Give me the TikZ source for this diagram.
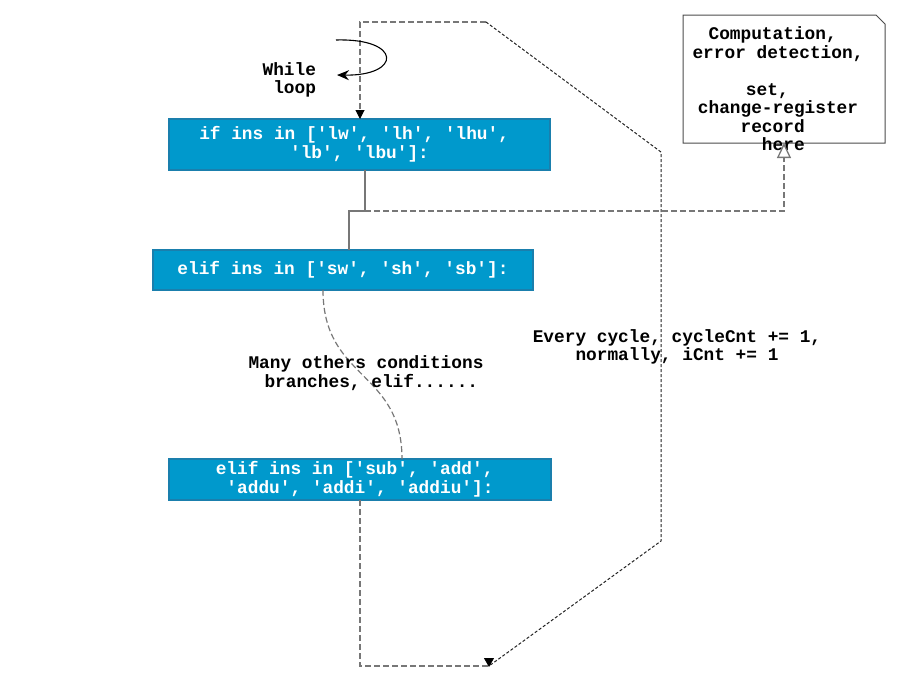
\documentclass[tikz,border=0pt]{standalone}
\usepackage{fontspec}
\setmonofont{Liberation Mono}
\usetikzlibrary{arrows.meta,calc}
\definecolor{boxfill}{HTML}{0099CC}
\definecolor{boxline}{HTML}{1A7FAD}
\definecolor{lnk}{HTML}{777777}
\definecolor{thinlnk}{HTML}{222222}
\begin{document}
\begin{tikzpicture}[x=1pt,y=-1pt,
  txt/.style={font=\fontsize{17.8pt}{18.5pt}\selectfont\ttfamily\bfseries, align=center, inner sep=0pt, outer sep=0pt},
  codebox/.style={txt, draw=boxline, line width=1.5pt, fill=boxfill, text=white},
  graylnk/.style={draw=lnk, line width=1.5pt, dash pattern=on 6pt off 3pt},
  solidlnk/.style={draw=lnk, line width=1.8pt},
  thindash/.style={draw=thinlnk, line width=1pt, dash pattern=on 3pt off 2pt},
  tipdown/.style={-{Triangle[length=9pt,width=9pt]}},
]
\useasboundingbox (0,0) rectangle (905,694);

% code boxes
\node[codebox, minimum width=381pt, minimum height=51pt] (b1) at (359.5,144.5)
  {if ins in ['lw', 'lh', 'lhu',\hphantom{x}\\'lb', 'lbu']:};
\node[codebox, minimum width=380pt, minimum height=40pt] (b2) at (343,270)
  {elif ins in ['sw', 'sh', 'sb']:};
\node[codebox, minimum width=382pt, minimum height=41pt] (b3) at (360,479.5)
  {elif ins in ['sub', 'add',\hphantom{x}\\'addu', 'addi', 'addiu']:};

% note
\node[inner sep=0pt, outer sep=0pt, minimum width=202pt, minimum height=128pt] (note) at (784,79) {};
\draw[fill=white, draw=black!70, line width=1pt]
  (note.north west) -- ($(note.north east)+(-9,0)$) -- ($(note.north east)+(0,9)$)
  -- (note.south east) -- (note.south west) -- cycle;
\node[txt] (notetext) at (778,89)
  {Computation,\hphantom{x}\\error detection,\\\mbox{}\\set,\hphantom{xx}\\change-register\\record\hphantom{x}\\\hphantom{x}here};

% loop path
\coordinate (t1) at (360,22);
\coordinate (t2) at (486,22);
\coordinate (t3) at (661,152);
\coordinate (t4) at (661,541);
\coordinate (t5) at (489,666);
\coordinate (t6) at (360,666);
\draw[graylnk] (t2) -- (t1) -- ($(t1 |- b1.north)+(0,-9)$);
\draw[tipdown, black, line width=1pt] ($(t1 |- b1.north)+(0,-9)$) -- (t1 |- b1.north);
\draw[thindash] (t2) -- (t3) -- (t4) -- (t5);
\draw[graylnk] (b3.south -| t6) -- (t6) -- (t5);
\draw[-{Triangle[length=9pt,width=10pt]}, black, line width=0.8pt] ($(t5)+(0,-8)$) -- ($(t5)+(0,1)$);

% b1 -> b2 and note
\coordinate (j1) at (365,211);
\coordinate (j2) at (349,211);
\coordinate (k) at (784,211);
\draw[solidlnk] (b1.south -| j1) -- (j1) -- (j2) -- (j2 |- b2.north);
\draw[graylnk] (j1) -- (k) -- ($(k |- note.south)+(0,15)$);
\draw[-{Triangle[open,fill=white,length=15pt,width=14pt]}, lnk, line width=1.3pt]
  ($(k |- note.south)+(0,15)$) -- (k |- note.south);

% b2 -> b3 curve
\draw[graylnk, line width=1.2pt] ($(b2.south)+(-20,0)$) .. controls (323,380) and (402,370) .. ($(b3.north)+(42,0)$);

% while loop
\coordinate (w1) at (336,40);
\coordinate (w2) at (337,75);
\draw[-{Stealth[length=12pt,width=10pt]}, black, line width=1.1pt] (w1) .. controls (402,38) and (402,76) .. (w2);
\node[txt, align=right, anchor=east] (wl) at (316,80) {While\\loop};

% labels
\node[txt] (many) at (366,373) {Many others conditions\\\hphantom{x}branches, elif......};
\node[txt] (every) at (677,347) {Every cycle, cycleCnt += 1,\\normally, iCnt += 1};
\end{tikzpicture}
\end{document}
